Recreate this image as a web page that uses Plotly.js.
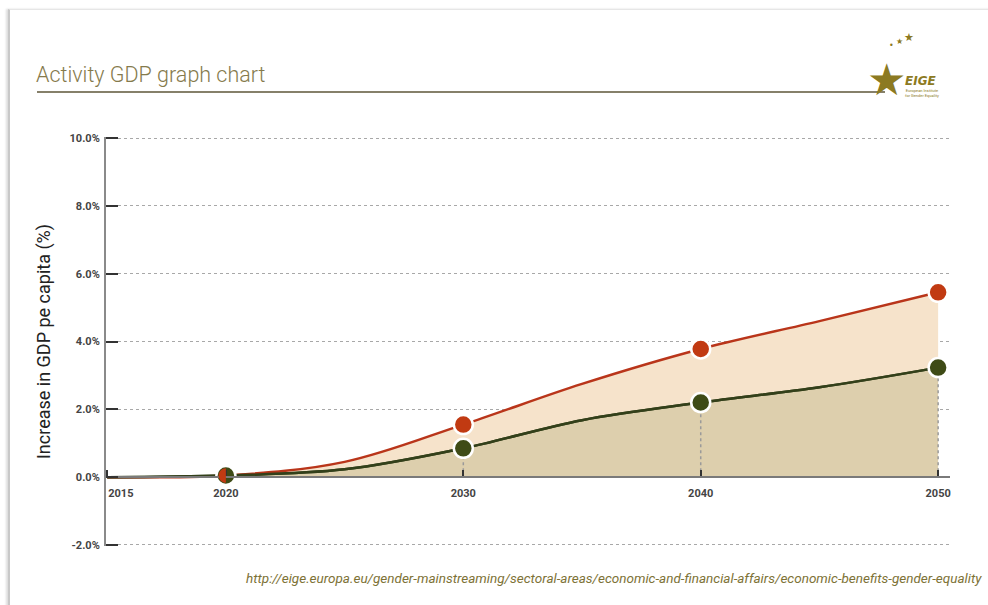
<!DOCTYPE html>
<html>
<head>
<meta charset="utf-8">
<script src="https://cdn.plot.ly/plotly-3.0.1.min.js"></script>
<style>
  html, body { margin: 0; padding: 0; background: #ffffff; }
  #frame { position: absolute; left: 0; top: 0; width: 988px; height: 605px; overflow: hidden; }
  #card { position: absolute; left: 8px; top: 9px; width: 990px; height: 610px;
          border-left: 2px solid #c8c8c8; border-top: 1px solid #e6e6e6;
          box-shadow: -2px 0 2px #dddddd; }
  #chart { position: absolute; left: 0; top: 0; width: 988px; height: 605px; }
</style>
</head>
<body>
<div id="frame">
  <div id="card"></div>
  <div id="chart"></div>
</div>
<script>
// ---- data ----
const years        = [2015, 2020, 2025, 2030, 2035, 2040, 2045, 2050];
const activityHigh = [0.00, 0.05, 0.45, 1.55, 2.75, 3.78, 4.60, 5.45];   // red series (%)
const activityLow  = [0.00, 0.05, 0.23, 0.85, 1.68, 2.20, 2.65, 3.23];   // green series (%)
const markerYears  = [2020, 2030, 2040, 2050];                            // years with a dot
const yTicks = [-2, 0, 2, 4, 6, 8, 10];
const yTickText = ['-2.0%', '0.0%', '2.0%', '4.0%', '6.0%', '8.0%', '10.0%'];
const xTicks = [2015, 2020, 2030, 2040, 2050];
const xTickText = ['\u00a0\u00a0\u00a0\u00a0\u00a0\u00a0\u00a0\u00a0\u00a0\u00a02015', '2020', '2030', '2040', '2050'];

const RED = '#b9351a', RED_M = '#c13a12';
const GREEN = '#33401a', GREEN_M = '#3e4b16';
const PEACH = '#f6e3cb', TAN = '#ddcfad';
const SMOOTH = 1;

const idx = markerYears.map(y => years.indexOf(y));
const mHigh = idx.map(i => activityHigh[i]);
const mLow = idx.map(i => activityLow[i]);

// vertical drop lines from green markers down to the axis (2030+)
const dropX = [], dropY = [];
for (let j = 1; j < markerYears.length; j++) {
  dropX.push(markerYears[j], markerYears[j], null);
  dropY.push(0, mLow[j], null);
}

const traces = [
  { x: years, y: activityLow, type: 'scatter', mode: 'lines', fill: 'tozeroy', fillcolor: TAN,
    line: { color: GREEN, width: 2.5, shape: 'spline', smoothing: SMOOTH }, hoverinfo: 'skip' },
  { x: years, y: activityHigh, type: 'scatter', mode: 'lines', fill: 'tonexty', fillcolor: PEACH,
    line: { color: RED, width: 2.5, shape: 'spline', smoothing: SMOOTH }, hoverinfo: 'skip' },
  { x: years, y: activityLow, type: 'scatter', mode: 'lines',
    line: { color: GREEN, width: 2.5, shape: 'spline', smoothing: SMOOTH }, hoverinfo: 'skip' },
  { x: dropX, y: dropY, type: 'scatter', mode: 'lines',
    line: { color: '#9a9a9a', width: 1.5, dash: 'dot' }, hoverinfo: 'skip' },
  { x: markerYears.slice(1), y: mHigh.slice(1), type: 'scatter', mode: 'markers',
    marker: { color: RED_M, size: 19, line: { color: '#ffffff', width: 2.5 } } },
  { x: markerYears, y: mLow, type: 'scatter', mode: 'markers',
    marker: { color: GREEN_M, size: 19, line: { color: '#ffffff', width: 2.5 } } }
];

// left half of the 2020 marker in red (pixel-sized shape anchored at the data point)
const r = 7.3, k = 0.5523 * r;
const halfPath = `M0,${r} C${-k},${r} ${-r},${k} ${-r},0 C${-r},${-k} ${-k},${-r} 0,${-r} Z`;

const px = v => (v - 106) / 844;          // container x -> paper x
const py = v => (605 - 59 - v) / 409;     // container y -> paper y

const layout = {
  width: 988, height: 605,
  margin: { l: 106, r: 38, t: 137, b: 59 },
  paper_bgcolor: 'rgba(0,0,0,0)', plot_bgcolor: 'rgba(0,0,0,0)',
  showlegend: false,
  font: { family: 'Roboto, sans-serif', color: '#444' },
  title: { text: 'Activity GDP graph chart', xref: 'container', yref: 'container',
           x: 36 / 988, xanchor: 'left', y: 1 - 74 / 605, yanchor: 'middle',
           font: { family: 'Roboto, sans-serif', size: 21.5, color: '#857a4c', weight: 300 } },
  xaxis: {
    range: [2014.95, 2050.5], anchor: 'free', position: 2.03 / 12.06,
    tickvals: xTicks, ticktext: xTickText,
    showgrid: false, zeroline: false,
    showline: true, linecolor: '#7a7a7a', linewidth: 2,
    ticks: 'inside', ticklen: 6, tickwidth: 2, tickcolor: '#333',
    tickfont: { family: 'Roboto, sans-serif', size: 11, color: '#444', weight: 'bold' },
    ticklabelstandoff: 6, fixedrange: true
  },
  yaxis: {
    range: [-2.03, 10.03], tickvals: yTicks, ticktext: yTickText,
    showgrid: true, gridcolor: '#a8a8a8', griddash: 'dot', gridwidth: 1,
    zeroline: false, showline: true, linecolor: '#8a8a8a', linewidth: 2,
    ticks: 'inside', ticklen: 12, tickwidth: 2, tickcolor: '#333',
    tickfont: { family: 'Roboto, sans-serif', size: 11, color: '#444', weight: 'bold' },
    ticklabelstandoff: 2,
    title: { text: 'Increase in GDP pe capita (%)', standoff: 14,
             font: { family: 'Roboto, sans-serif', size: 18, color: '#222' } },
    fixedrange: true
  },
  shapes: [
    { type: 'line', xref: 'paper', yref: 'paper',
      x0: px(37), x1: px(885), y0: py(92), y1: py(92),
      line: { color: '#5e5638', width: 1.5 } },
    { type: 'path', xref: 'x', yref: 'y', xsizemode: 'pixel', ysizemode: 'pixel',
      xanchor: markerYears[0], yanchor: mHigh[0], path: halfPath,
      fillcolor: RED_M, line: { width: 0 }, layer: 'above' }
  ],
  annotations: [
    { text: 'http://eige.europa.eu/gender-mainstreaming/sectoral-areas/economic-and-financial-affairs/economic-benefits-gender-equality',
      xref: 'paper', yref: 'paper', x: px(984), xanchor: 'right',
      y: py(578), yanchor: 'middle', showarrow: false,
      font: { family: 'Roboto, sans-serif', size: 13.5, color: '#7d7236', style: 'italic' } },
    // logo approximation
    { text: '\u2605', xref: 'paper', yref: 'paper', x: px(908), y: py(70), yshift: 18,
      showarrow: false, font: { size: 44, color: '#8c7a22', family: 'DejaVu Sans' } },
    { text: '\u2605', xref: 'paper', yref: 'paper', x: px(916), y: py(33), yshift: 4,
      showarrow: false, font: { size: 11, color: '#8c7a22', family: 'DejaVu Sans' } },
    { text: '\u2605', xref: 'paper', yref: 'paper', x: px(905), y: py(38), yshift: 3,
      showarrow: false, font: { size: 8, color: '#8c7a22', family: 'DejaVu Sans' } },
    { text: '\u2022', xref: 'paper', yref: 'paper', x: px(896), y: py(41), yshift: 2,
      showarrow: false, font: { size: 8, color: '#8c7a22', family: 'DejaVu Sans' } },
    { text: '<i><b>EIGE</b></i>', xref: 'paper', yref: 'paper', x: px(939), y: py(72),
      showarrow: false, font: { size: 12, color: '#8c7a22', family: 'DejaVu Sans' } },
    { text: 'European Institute<br>for Gender Equality', xref: 'paper', yref: 'paper',
      x: px(941), y: py(86),
      showarrow: false, font: { size: 4, color: '#8c7a22' } }
  ]
};

Plotly.newPlot('chart', traces, layout, { displayModeBar: false, staticPlot: true });
</script>
</body>
</html>
